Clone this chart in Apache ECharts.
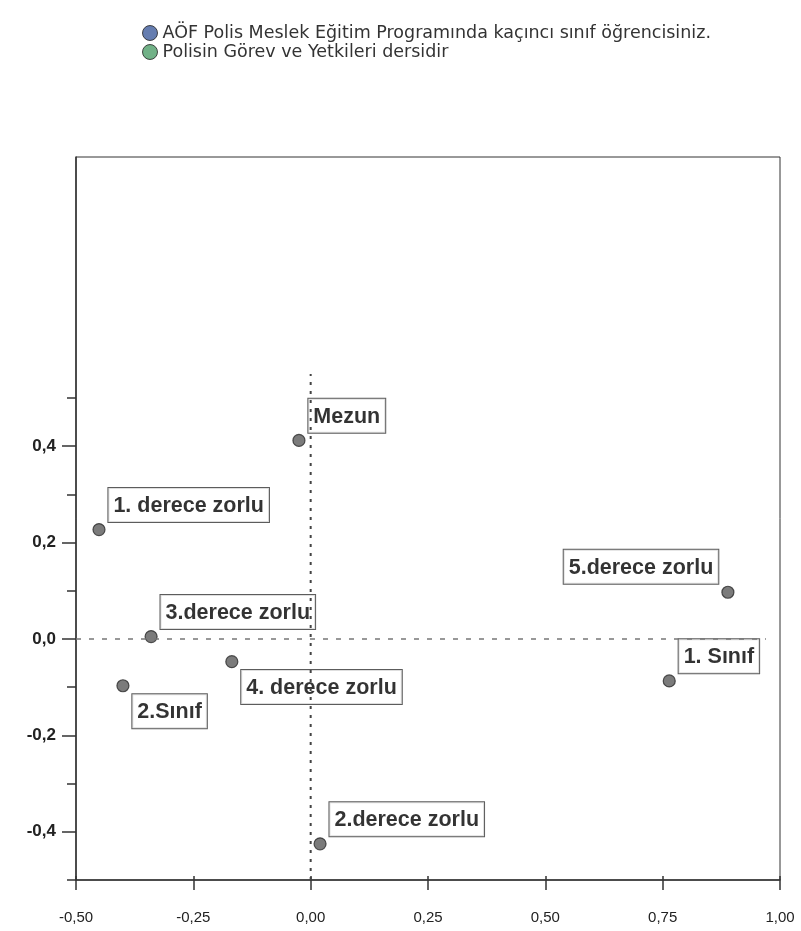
<!DOCTYPE html>
<html>
<head>
<meta charset="utf-8">
<script src="https://cdn.jsdelivr.net/npm/echarts@6/dist/echarts.min.js"></script>
<style>html,body{margin:0;padding:0;background:#fff;}#c{width:801px;height:931px;}</style>
</head>
<body>
<div id="c"></div>
<script>
// ---- data ----
const seriesNames = ['AÖF Polis Meslek Eğitim Programında kaçıncı sınıf öğrencisiniz.', 'Polisin Görev ve Yetkileri dersidir'];
const classNames = ['Mezun', '2.Sınıf', '1. Sınıf'];
const classX = [-0.025, -0.400, 0.764];
const classY = [0.412, -0.097, -0.087];
const difficultyNames = ['1. derece zorlu', '2.derece zorlu', '3.derece zorlu', '4. derece zorlu', '5.derece zorlu'];
const difficultyX = [-0.451, 0.020, -0.340, -0.168, 0.889];
const difficultyY = [0.227, -0.425, 0.005, -0.047, 0.097];
const xTicks = [-0.50, -0.25, 0.00, 0.25, 0.50, 0.75, 1.00];
const yMajorTicks = [-0.4, -0.2, 0.0, 0.2, 0.4];
const yMinorTicks = [-0.5, -0.3, -0.1, 0.1, 0.3, 0.5];
const refVertical = [[0, -0.5], [0, 0.55]];
const refHorizontal = [[-0.5, 0], [0.97, 0]];
// label placement (style): ur = upper-right, ul = upper-left, lr = lower-right
const labelPlacement = {
  'Mezun': 'ur', '2.Sınıf': 'lr', '1. Sınıf': 'ur',
  '1. derece zorlu': 'ur', '2.derece zorlu': 'ur', '3.derece zorlu': 'ur',
  '4. derece zorlu': 'lr', '5.derece zorlu': 'ul'
};

const placementStyle = {
  ur: { position: [16, -1], align: 'left', verticalAlign: 'bottom' },
  ul: { position: [-3, -2], align: 'right', verticalAlign: 'bottom' },
  lr: { position: [16, 15], align: 'left', verticalAlign: 'top' }
};

function pts(names, xs, ys) {
  return names.map((n, i) => ({
    name: n,
    value: [xs[i], ys[i]],
    label: placementStyle[labelPlacement[n]]
  }));
}

const labelBase = {
  show: true,
  formatter: p => p.name,
  fontFamily: '"Liberation Sans", Arial, sans-serif',
  fontWeight: 'bold',
  fontSize: 21.5,
  color: '#000',
  backgroundColor: '#fff',
  borderColor: '#333',
  borderWidth: 1,
  padding: [7, 5, 5, 5]
};

const pointStyle = { color: '#5a5a5a', borderColor: '#2a2a2a', borderWidth: 1.2 };

const fmt = (v, d) => v.toFixed(d).replace('.', ',');

const chart = echarts.init(document.getElementById('c'), null, { renderer: 'canvas' });
chart.setOption({
  backgroundColor: '#fff',
  animation: false,
  legend: {
    orient: 'vertical',
    left: 137,
    top: 19,
    itemWidth: 15,
    itemHeight: 15,
    itemGap: 1,
    icon: 'circle',
    textStyle: { fontFamily: '"DejaVu Sans", sans-serif', fontSize: 17.5, color: '#333' },
    data: [
      { name: seriesNames[0], itemStyle: { color: '#3f5c9c', borderColor: '#222', borderWidth: 1 } },
      { name: seriesNames[1], itemStyle: { color: '#4e9e69', borderColor: '#222', borderWidth: 1 } }
    ]
  },
  grid: { left: 76, right: 21, top: 157, bottom: 51, show: true, borderColor: '#333', borderWidth: 1 },
  xAxis: [
    {
      type: 'value', min: -0.5, max: 1.0, interval: 0.25, position: 'bottom',
      splitLine: { show: false },
      axisLine: { onZero: false, lineStyle: { color: '#333', width: 1.5 } },
      axisTick: { length: 10, lineStyle: { color: '#333', width: 1.5 }, customValues: xTicks },
      axisLabel: {
        customValues: xTicks,
        margin: 30, fontSize: 15, color: '#222', fontFamily: '"Liberation Sans", Arial, sans-serif',
        formatter: v => fmt(v, 2)
      }
    },
    {
      type: 'value', min: -0.5, max: 1.0, interval: 0.25, position: 'bottom', offset: 0,
      splitLine: { show: false },
      axisLine: { show: false, onZero: false },
      axisTick: { inside: true, length: 4, lineStyle: { color: '#333', width: 1.5 }, customValues: xTicks },
      axisLabel: { show: false }
    }
  ],
  yAxis: [
    {
      type: 'value', min: -0.5, max: 1.0, position: 'left',
      splitLine: { show: false },
      axisLine: { onZero: false, lineStyle: { color: '#333', width: 1.5 } },
      axisTick: { length: 14, lineStyle: { color: '#333', width: 1.5 }, customValues: yMajorTicks },
      axisLabel: {
        customValues: yMajorTicks,
        margin: 20, fontSize: 17, fontWeight: 'bold', color: '#222', fontFamily: '"Liberation Sans", Arial, sans-serif',
        formatter: v => fmt(v, 1)
      }
    },
    {
      type: 'value', min: -0.5, max: 1.0, position: 'left', offset: 0,
      splitLine: { show: false },
      axisLine: { show: false, onZero: false },
      axisTick: { length: 9, lineStyle: { color: '#333', width: 1.5 }, customValues: yMinorTicks },
      axisLabel: { show: false }
    }
  ],
  series: [
    {
      name: '__vref', type: 'line', data: refVertical, symbol: 'none', silent: true,
      lineStyle: { color: '#444', width: 2, type: [3, 6] }
    },
    {
      name: '__href', type: 'line', data: refHorizontal, symbol: 'none', silent: true,
      lineStyle: { color: '#777', width: 1.5, type: [5, 8] }
    },
    {
      name: seriesNames[0], type: 'scatter', symbolSize: 12,
      itemStyle: pointStyle, label: labelBase,
      data: pts(classNames, classX, classY)
    },
    {
      name: seriesNames[1], type: 'scatter', symbolSize: 12,
      itemStyle: pointStyle, label: labelBase,
      data: pts(difficultyNames, difficultyX, difficultyY)
    }
  ]
});
</script>
</body>
</html>
